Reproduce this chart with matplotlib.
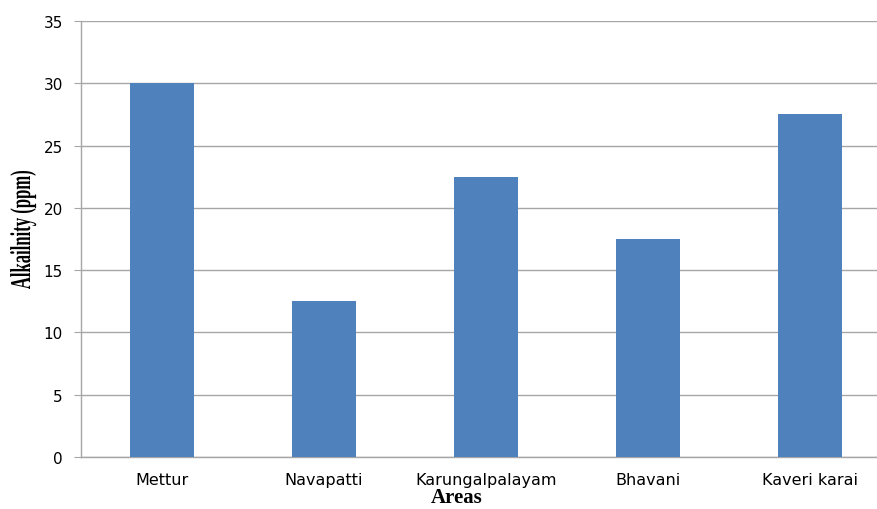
import matplotlib
matplotlib.use("Agg")
import matplotlib.pyplot as plt
from matplotlib.textpath import TextPath
from matplotlib.patches import PathPatch
from matplotlib.font_manager import FontProperties
from matplotlib.transforms import Affine2D, IdentityTransform

# alkalinity readings by sampling area
areas = ['Mettur', 'Navapatti', 'Karungalpalayam', 'Bhavani', 'Kaveri karai']
alkalinity = [30, 12.5, 22.5, 17.5, 27.5]
yticks = [0, 5, 10, 15, 20, 25, 30, 35]

W, H = 877, 510
fig = plt.figure(figsize=(W / 100, H / 100), dpi=100)
ax = fig.add_axes([81 / W, 52 / H, 810 / W, 436 / H])

ax.bar(range(len(areas)), alkalinity, width=0.4, color='#4F81BD', zorder=3)

ax.set_xlim(-0.5, len(areas) - 0.5)
ax.set_ylim(0, 35)
ax.set_yticks(yticks)
ax.set_xticks(range(len(areas)))
ax.set_xticklabels(areas)
ax.yaxis.grid(True, color='#a6a6a6', linewidth=1.0, zorder=0)

for side in ['top', 'right']:
    ax.spines[side].set_visible(False)
for side in ['left', 'bottom']:
    ax.spines[side].set_color('#a6a6a6')
    ax.spines[side].set_linewidth(1.0)

ax.tick_params(axis='y', length=5, color='#a6a6a6', pad=8, labelsize=11)
ax.tick_params(axis='x', length=0, pad=11, labelsize=11.5)

# condensed, tall bold serif y label drawn as a path (pixel coordinates)
fp = FontProperties(family='Liberation Serif', weight='bold')
tp = TextPath((0, 0), 'Alkailnity (ppm)', size=1, prop=fp)
ext = tp.get_extents()
sy = 19 / 0.662
sx = 118 / ext.width
tr = (Affine2D().translate(-ext.x0, 0).scale(sx, sy).rotate_deg(90)
      .translate(30, H - 290))
fig.patches.append(PathPatch(tr.transform_path(tp), facecolor='black',
                             edgecolor='none', transform=IdentityTransform(),
                             figure=fig))

fig.text(457 / W, 7 / H, 'Areas', ha='center', va='baseline',
         family='Liberation Serif', fontweight='bold', fontsize=15)

fig.savefig('out.png', dpi=100)
